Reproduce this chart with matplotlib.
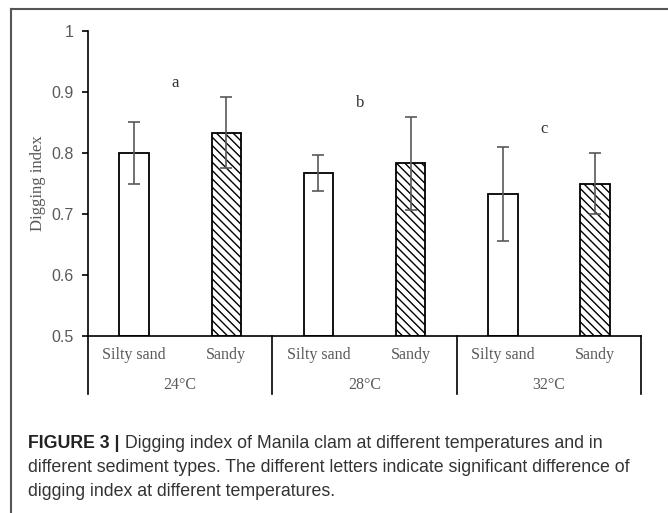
import numpy as np
import matplotlib
matplotlib.use("Agg")
import matplotlib.pyplot as plt
from matplotlib.lines import Line2D

# data
sediments = ["Silty sand", "Sandy", "Silty sand", "Sandy", "Silty sand", "Sandy"]
temps = ["24°C", "28°C", "32°C"]
index_mean = [0.800, 0.833, 0.767, 0.783, 0.733, 0.750]
index_err = [0.050, 0.058, 0.029, 0.076, 0.077, 0.050]
letters = ["a", "b", "c"]
letter_y = [0.915, 0.882, 0.840]

plt.rcParams["hatch.linewidth"] = 1.0
serif = "Liberation Serif"
sans = "Liberation Sans"
gray = "#595959"

fig = plt.figure(figsize=(6.68, 5.13), dpi=100)
ax = fig.add_axes([0.1317, 0.345, 0.828, 0.5946])

x = np.arange(len(index_mean))
hatches = ["", "\\\\\\\\"] * 3
for xi, v, h in zip(x, index_mean, hatches):
    ax.bar(xi, v - 0.5, bottom=0.5, width=0.32, color="white",
           edgecolor="black", linewidth=1.3, hatch=h, zorder=2)
ax.errorbar(x, index_mean, yerr=index_err, fmt="none", ecolor=gray,
            elinewidth=1.2, capsize=4, capthick=1.2, zorder=3)

for i, (lt, ly) in enumerate(zip(letters, letter_y)):
    ax.text(2 * i + 0.45, ly, lt, ha="center", va="center",
            family=serif, fontsize=12, color="#333333")

ax.set_xlim(-0.5, 5.5)
ax.set_ylim(0.5, 1.0)
ax.set_yticks([0.5, 0.6, 0.7, 0.8, 0.9, 1.0])
ax.set_yticklabels(["0.5", "0.6", "0.7", "0.8", "0.9", "1"],
                   family=sans, fontsize=11.5, color=gray)
ax.tick_params(axis="y", length=4, width=1.2, pad=6)
ax.set_xticks([])
for s in ["top", "right"]:
    ax.spines[s].set_visible(False)
ax.spines["left"].set_linewidth(1.2)
ax.spines["bottom"].set_linewidth(1.2)
ax.set_ylabel("Digging index", family=serif, fontsize=12, color=gray, labelpad=4)

# two-level category axis
trans = ax.get_xaxis_transform()
for sx in [-0.5, 1.5, 3.5, 5.5]:
    ax.plot([sx, sx], [0, -0.19], transform=trans, color="black",
            lw=1.2, clip_on=False)
for xi, name in zip(x, sediments):
    ax.text(xi, -0.062, name, transform=trans, ha="center", va="center",
            family=serif, fontsize=11.5, color=gray)
for i, t in enumerate(temps):
    ax.text(2 * i + 0.5, -0.16, t, transform=trans, ha="center", va="center",
            family=serif, fontsize=11.5, color=gray)

# frame lines of the figure panel
fig.add_artist(Line2D([11 / 668, 1.0], [1 - 9 / 513, 1 - 9 / 513],
                      transform=fig.transFigure, color="#555555", lw=1.5))
fig.add_artist(Line2D([11 / 668, 11 / 668], [0.0, 1 - 9 / 513],
                      transform=fig.transFigure, color="#555555", lw=1.5))

# caption
cx = 28 / 668
fs = 12.8
head = fig.text(cx, 1 - 443 / 513, "FIGURE 3 |", family=sans, fontsize=fs,
                weight="bold", color="#222222", va="center")
ax.annotate(" Digging index of Manila clam at different temperatures and in",
            xy=(1, 0), xycoords=head, va="bottom", ha="left",
            family=sans, fontsize=fs, color="#333333")
fig.text(cx, 1 - 467 / 513,
         "different sediment types. The different letters indicate significant difference of",
         family=sans, fontsize=fs, color="#333333", va="center")
fig.text(cx, 1 - 491 / 513, "digging index at different temperatures.",
         family=sans, fontsize=fs, color="#333333", va="center")

fig.savefig("out.png", dpi=100)
